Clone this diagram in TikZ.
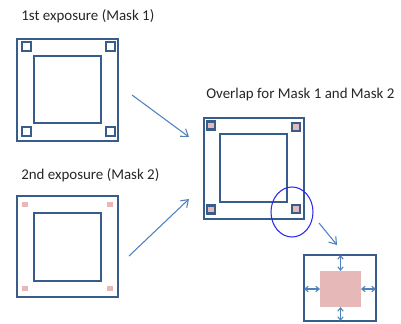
\documentclass[tikz,border=0pt]{standalone}
\usepackage{fontspec}
\setmainfont{Carlito}
\usetikzlibrary{arrows.meta}
\definecolor{frameblue}{HTML}{385D8A}
\definecolor{arrowblue}{HTML}{4F81BD}
\definecolor{markpink}{HTML}{E6B9B8}
\definecolor{ringblue}{HTML}{2B2BEE}
\tikzset{
  frame/.style={draw=frameblue, line width=1.6pt},
  cornerbox/.style={draw=frameblue, line width=1.6pt},
  pinkdot/.style={fill=markpink},
  flow/.style={draw=arrowblue, line width=0.8pt, -{Straight Barb[length=5pt,width=7pt]}},
  gap/.style={draw=arrowblue, line width=0.8pt, {Straight Barb[length=2.5pt,width=4pt]}-{Straight Barb[length=2.5pt,width=4pt]}},
  titletext/.style={anchor=west, inner sep=0pt, text=black!85, font=\fontsize{11.2}{13}\selectfont}
}

\begin{document}
\begin{tikzpicture}[x=0.75pt,y=-0.75pt]
    \useasboundingbox (0,0) rectangle (401,324);

    % mask 1
    \node[titletext] (t1) at (21,16) {1st exposure (Mask 1)};
    \draw[frame] (17,39) rectangle (118,141);
    \draw[frame] (34,56) rectangle (101,123);
    \foreach \x/\y in {26.5/46.5, 110.5/46.5, 26.5/131.5, 110.5/131.5}
      \draw[cornerbox] (\x-4.5,\y-4.5) rectangle (\x+4.5,\y+4.5);

    % mask 2
    \node[titletext] (t2) at (21,175) {2nd exposure (Mask 2)};
    \draw[frame] (17,196) rectangle (118,297);
    \draw[frame] (34,213) rectangle (101,281);
    \foreach \x/\y in {25/204.5, 109.5/204.5, 25/288.5, 109.5/288.5}
      \fill[pinkdot] (\x-3,\y-2.5) rectangle (\x+3,\y+2.5);

    % both masks on top of each other
    \node[titletext] (t3) at (206,95) {Overlap for Mask 1 and Mask 2};
    \draw[frame] (204,118) rectangle (304,219);
    \draw[frame] (220,134) rectangle (287,202);
    \foreach \x/\y in {211/125.5, 296/127, 211/209.5, 296/209}
      \draw[cornerbox, fill=markpink] (\x-4,\y-4) rectangle (\x+4,\y+4);
    \draw[ringblue, line width=0.8pt] (292,212) ellipse [x radius=21, y radius=25];

    % arrows between the panels
    \coordinate (a1s) at (132,95);  \coordinate (a1e) at (189,137);
    \coordinate (a2s) at (129,256); \coordinate (a2e) at (189,199);
    \coordinate (a3s) at (319,223); \coordinate (a3e) at (337,245);
    \draw[flow] (a1s) -- (a1e);
    \draw[flow] (a2s) -- (a2e);
    \draw[flow] (a3s) -- (a3e);

    % close-up of one corner mark
    \node[frame, outer sep=0pt, inner sep=0pt, minimum width=54pt, minimum height=49.5pt] (zoom) at (340,288) {};
    \node[pinkdot, outer sep=0pt, inner sep=0pt, minimum width=30.75pt, minimum height=27pt] (core) at (340.5,289) {};
    \draw[gap] (core.north) -- (core.north |- zoom.north);
    \draw[gap] (core.south) -- (core.south |- zoom.south);
    \draw[gap] (core.west) -- (core.west -| zoom.west);
    \draw[gap] (core.east) -- (core.east -| zoom.east);
\end{tikzpicture}
\end{document}
